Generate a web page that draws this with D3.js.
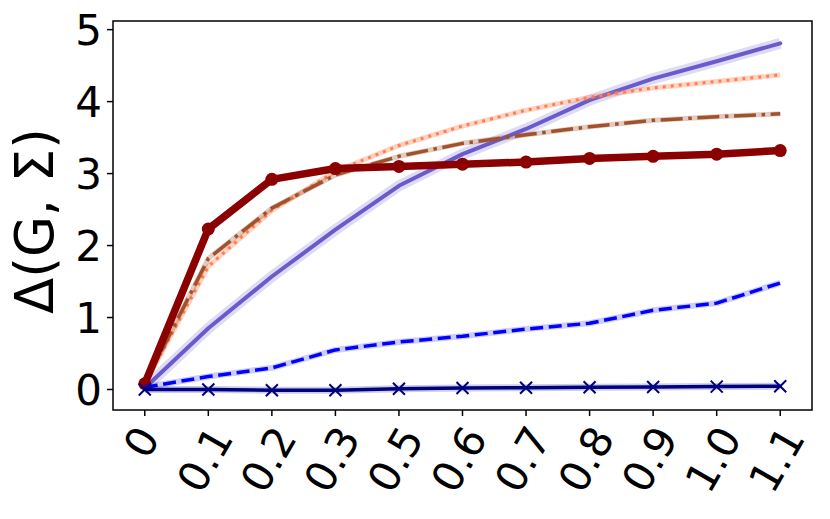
<!DOCTYPE html>
<html>
<head>
<meta charset="utf-8">
<script src="https://cdn.jsdelivr.net/npm/d3@7"></script>
<style>
  html, body { margin: 0; padding: 0; background: #fff; }
  svg { display: block; }
  text { font-family: "DejaVu Sans", sans-serif; fill: #000; }
</style>
</head>
<body>
<svg id="chart" width="830" height="519"></svg>
<script>
// ---- data ----
const categories = ["0", "0.1", "0.2", "0.3", "0.5", "0.6", "0.7", "0.8", "0.9", "1.0", "1.1"];
const yTicks = [0, 1, 2, 3, 4, 5];
const yLabel = "Δ(G, Σ)";

const darkRedValues   = [0.08, 2.23, 2.92, 3.07, 3.10, 3.13, 3.16, 3.21, 3.24, 3.27, 3.32];
const slateBlueValues = [0.02, 0.85, 1.57, 2.22, 2.83, 3.27, 3.62, 4.02, 4.32, 4.56, 4.81];
const coralValues     = [0.08, 1.71, 2.49, 3.03, 3.39, 3.66, 3.88, 4.06, 4.19, 4.28, 4.37];
const siennaValues    = [0.08, 1.82, 2.52, 2.98, 3.24, 3.42, 3.54, 3.65, 3.74, 3.79, 3.83];
const blueValues      = [0.03, 0.18, 0.30, 0.55, 0.66, 0.74, 0.84, 0.92, 1.10, 1.20, 1.48];
const navyValues      = [0.00, 0.00, -0.01, -0.01, 0.01, 0.02, 0.025, 0.03, 0.035, 0.04, 0.045];

// ---- layout ----
const svg = d3.select("#chart");
const L = 113, R = 812, T = 21, B = 410;
const x = d3.scaleLinear().domain([-0.5, categories.length - 0.5]).range([L, R]);
const y = d3.scaleLinear().domain([-0.285, 5.12]).range([B, T]);

const line = d3.line().x((d, i) => x(i)).y(d => y(d));

svg.append("defs").append("clipPath").attr("id", "clip")
  .append("rect").attr("x", L).attr("y", T).attr("width", R - L).attr("height", B - T);
const plot = svg.append("g").attr("clip-path", "url(#clip)");

function drawSeries(vals, opt) {
  if (opt.band) {
    plot.append("path").attr("d", line(vals)).attr("fill", "none")
      .attr("stroke", opt.color).attr("stroke-opacity", opt.bandOpacity)
      .attr("stroke-width", opt.band).attr("stroke-linejoin", "round").attr("stroke-linecap", "butt");
  }
  plot.append("path").attr("d", line(vals)).attr("fill", "none")
    .attr("stroke", opt.color).attr("stroke-width", opt.width)
    .attr("stroke-dasharray", opt.dash || null)
    .attr("stroke-linejoin", "round").attr("stroke-linecap", opt.cap || "butt");
}

drawSeries(slateBlueValues, { color: "#6A5ACD", width: 4, band: 11, bandOpacity: 0.22, cap: "round" });
drawSeries(coralValues, { color: "#FF7F50", width: 3, dash: "3,5", band: 5, bandOpacity: 0.35 });
drawSeries(siennaValues, { color: "#A0522D", width: 3.5, dash: "22,5.6,3.5,5.6", band: 5, bandOpacity: 0.3 });

// dark red with markers
drawSeries(darkRedValues, { color: "#8B0000", width: 7.5, cap: "round" });
plot.selectAll("circle.dr").data(darkRedValues).enter().append("circle")
  .attr("cx", (d, i) => x(i)).attr("cy", d => y(d)).attr("r", 6.5).attr("fill", "#8B0000");

drawSeries(blueValues, { color: "#0000FF", width: 3.5, dash: "13,5.6", band: 6, bandOpacity: 0.2 });
drawSeries(navyValues, { color: "#000080", width: 3.5, band: 7, bandOpacity: 0.2, cap: "round" });
const xs = 6;
plot.selectAll("path.xm").data(navyValues).enter().append("path")
  .attr("d", (d, i) => {
    const cx = x(i), cy = y(d);
    return `M${cx - xs},${cy - xs}L${cx + xs},${cy + xs}M${cx - xs},${cy + xs}L${cx + xs},${cy - xs}`;
  })
  .attr("stroke", "#000080").attr("stroke-width", 2).attr("fill", "none");

// ---- frame ----
svg.append("rect").attr("x", L).attr("y", T).attr("width", R - L).attr("height", B - T)
  .attr("fill", "none").attr("stroke", "#000").attr("stroke-width", 1.5);

// ---- y axis ----
const fs = 42;
const yAxis = svg.append("g");
yTicks.forEach(t => {
  yAxis.append("line").attr("x1", L - 6).attr("x2", L).attr("y1", y(t)).attr("y2", y(t))
    .attr("stroke", "#000").attr("stroke-width", 1.5);
  yAxis.append("text").attr("x", L - 11).attr("y", y(t) + 0.365 * fs)
    .attr("text-anchor", "end").attr("font-size", fs).text(t);
});

// ---- x axis ----
const xAxis = svg.append("g");
const H = 0.99 * fs, desc = 0.24 * fs, topY = B + 12;
const s60 = Math.sin(Math.PI / 3), c60 = Math.cos(Math.PI / 3);
categories.forEach((c, i) => {
  xAxis.append("line").attr("x1", x(i)).attr("x2", x(i)).attr("y1", B).attr("y2", B + 6)
    .attr("stroke", "#000").attr("stroke-width", 1.5);
  const g = xAxis.append("g");
  const t = g.append("text").attr("font-size", fs).attr("text-anchor", "middle").text(c);
  const W = t.node().getComputedTextLength();
  const vert = W * s60 + H * c60;
  const cy = topY + vert / 2;
  g.attr("transform", `translate(${x(i)},${cy}) rotate(-60)`);
  t.attr("x", 0).attr("y", H / 2 - desc);
});

// ---- y label ----
svg.append("text").attr("transform", "translate(53,221) rotate(-90)")
  .attr("text-anchor", "middle").attr("font-size", 53).text(yLabel);
</script>
</body>
</html>
